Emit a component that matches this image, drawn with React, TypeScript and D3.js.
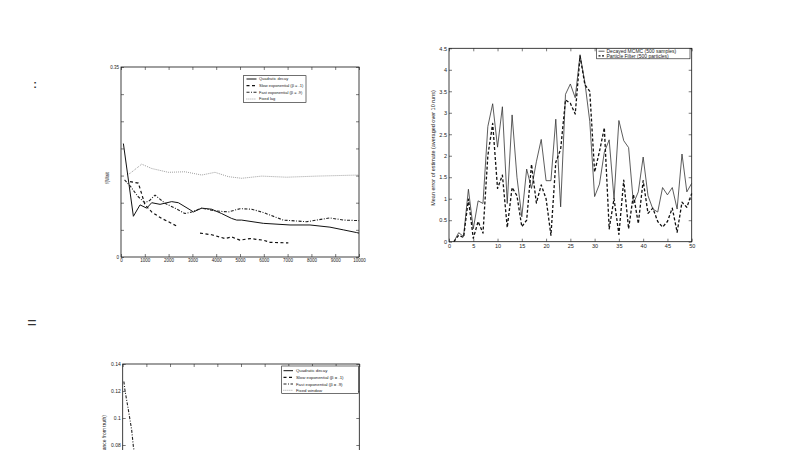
import { useEffect, useRef } from "react";
import * as d3 from "d3";

const FONT = "'Liberation Sans', Arial, sans-serif";

// ---- panel A: lag vs. time ----
const LAG_LEGEND = ["Quadratic decay", "Slow exponential (β = .1)", "Fast exponential (β = .9)", "Fixed lag"];
const QUAD_T = [100, 520, 800, 1080, 1290, 1640, 2130, 2410, 2900, 3040, 3390, 3810, 4230, 4650, 4860, 5070, 5980, 7100, 7940, 8780, 9340, 9900, 10000];
const QUAD_V = [0.209, 0.075, 0.096, 0.09, 0.1, 0.097, 0.102, 0.1, 0.087, 0.083, 0.09, 0.088, 0.08, 0.071, 0.068, 0.068, 0.062, 0.059, 0.059, 0.055, 0.05, 0.045, 0.044];
const SLOW_T = [380, 730, 1010, 1290, 1710, 1990, 2340, 2800, 3320, 3810, 4370, 4650, 5000, 5420, 5980, 6260, 7030];
const SLOW_V = [0.139, 0.136, 0.096, 0.083, 0.071, 0.065, 0.057, null, 0.044, 0.041, 0.034, 0.037, 0.031, 0.034, 0.031, 0.027, 0.026];
const FAST_T = [150, 400, 700, 1000, 1200, 1430, 1850, 2270, 2690, 2970, 3390, 3950, 4510, 5000, 5490, 5980, 6820, 7800, 8780, 9340, 10000];
const FAST_V = [0.142, 0.13, 0.112, 0.1, 0.104, 0.114, 0.099, 0.09, 0.08, 0.083, 0.09, 0.085, 0.083, 0.089, 0.088, 0.082, 0.068, 0.065, 0.072, 0.068, 0.067];
const FIXED_T = [250, 378, 870, 1290, 1990, 2690, 3390, 3950, 4510, 5070, 5910, 6960, 8220, 10000];
const FIXED_V = [0.152, 0.154, 0.171, 0.163, 0.156, 0.157, 0.151, 0.156, 0.148, 0.145, 0.149, 0.147, 0.149, 0.151];

// ---- panel B: error per step ----
const STEPS = d3.range(1, 51);
const MCMC = [0, 0.21, 0.12, 1.22, 0.3, 0.95, 0.89, 2.68, 3.21, 2.2, 3.14, 0.89, 2.95, 1.5, 0.58, 1.69, 1.24, 1.86, 2.38, 1.42, 1.42, 2.85, 0.81, 3.43, 3.67, 3.35, 4.35, 3.7, 2.8, 1.05, 1.34, 2.08, 2.37, 1.0, 2.82, 2.35, 2.19, 0.89, 1.16, 1.97, 1.07, 0.76, 0.69, 1.26, 1.09, 1.26, 0.76, 2.04, 1.16, 1.36];
const PF = [0, 0.15, 0.1, 0.99, 0.08, 0.47, 0.2, 2.0, 2.75, 1.24, 1.55, 0.33, 1.26, 1.07, 0.35, 0.5, 1.8, 0.9, 1.32, 1.0, 0.15, 1.85, 2.15, 3.3, 3.22, 2.97, 4.32, 3.65, 3.5, 1.62, 2.1, 2.65, 0.3, 1.0, 0.17, 1.43, 0.3, 1.1, 0.42, 1.42, 0.66, 0.78, 0.47, 0.34, 0.47, 0.78, 0.22, 0.92, 0.8, 1.12];
const ERR_LEGEND = ["Decayed MCMC (500 samples)", "Particle Filter (500 particles)"];

// ---- panel C: distance from truth (only the top is on the page) ----
const DIST_LEGEND = ["Quadratic decay", "Slow exponential (β = .1)", "Fast exponential (β = .9)", "Fixed window"];
const DIST_FAST_T = [50, 100, 240, 380, 450, 480];
const DIST_FAST_V = [0.127, 0.12, 0.106, 0.091, 0.079, 0.076];

const STYLES = [
  { dash: "none", color: "#111", width: 1 },
  { dash: "3,2.5", color: "#111", width: 1.2 },
  { dash: "3,1.5,1,1.5", color: "#222", width: 1.1 },
  { dash: "0.8,1.2", color: "#888", width: 1 },
];

type Line = { xs: number[]; ys: (number | null)[]; style: { dash: string; color: string; width: number } };

type PanelProps = {
  x: d3.ScaleLinear<number, number>;
  y: d3.ScaleLinear<number, number>;
  xTicks: number[];
  yTicks: number[];
  yFmt: (d: number) => string;
  xLabels: boolean;
  fontSize: number;
  lines: Line[];
  legend: { names: string[]; styles: typeof STYLES; box: [number, number, number, number]; rows: number[]; lx: [number, number]; tx: number; fs: number };
  yLabel: { text: string; x: number; y: number; anchor: string };
};

const Panel = ({ x, y, xTicks, yTicks, yFmt, xLabels, fontSize, lines, legend, yLabel }: PanelProps) => {
  const axesRef = useRef<SVGGElement>(null);
  const [x0, x1] = x.range();
  const [yb, yt] = y.range();

  useEffect(() => {
    const g = d3.select(axesRef.current);
    g.selectAll("*").remove();
    const t = 3;
    g.append("g").attr("transform", `translate(0,${yb})`)
      .call(d3.axisBottom(x).tickValues(xTicks).tickSizeInner(-t).tickSizeOuter(0).tickPadding(2)
        .tickFormat((d) => (xLabels ? String(d) : "")));
    g.append("g").attr("transform", `translate(0,${yt})`)
      .call(d3.axisTop(x).tickValues(xTicks).tickSizeInner(-t).tickSizeOuter(0).tickFormat(() => ""));
    g.append("g").attr("transform", `translate(${x0},0)`)
      .call(d3.axisLeft(y).tickValues(yTicks).tickSizeInner(-t).tickSizeOuter(0).tickPadding(2).tickFormat((d) => yFmt(+d)));
    g.append("g").attr("transform", `translate(${x1},0)`)
      .call(d3.axisRight(y).tickValues(yTicks).tickSizeInner(-t).tickSizeOuter(0).tickFormat(() => ""));
    g.selectAll(".domain").remove();
    g.selectAll("text").filter(function () { return d3.select(this).text() === ""; }).remove();
    g.selectAll("line").attr("stroke", "#222").attr("stroke-width", 0.6);
    g.selectAll("text").attr("font-family", FONT).attr("font-size", fontSize).attr("fill", "#222");
  }, [x, y, xTicks, yTicks, yFmt, xLabels, fontSize, x0, x1, yb, yt]);

  const path = (l: Line) =>
    d3.line<number>()
      .defined((i) => l.ys[i] !== null)
      .x((i) => x(l.xs[i]))
      .y((i) => y(l.ys[i] as number))(d3.range(l.xs.length)) || "";

  const [bx0, by0, bx1, by1] = legend.box;
  return (
    <g>
      <rect x={x0} y={yt} width={x1 - x0} height={yb - yt} fill="white" stroke="#111" strokeWidth={0.8} />
      {lines.map((l, i) => (
        <path key={i} d={path(l)} fill="none" stroke={l.style.color} strokeWidth={l.style.width}
          strokeDasharray={l.style.dash} strokeLinejoin="round" />
      ))}
      <g ref={axesRef} />
      <text transform={`translate(${yLabel.x},${yLabel.y}) rotate(-90)`} textAnchor={yLabel.anchor}
        fontFamily={FONT} fontSize={fontSize} fill="#222">{yLabel.text}</text>
      <rect x={bx0} y={by0} width={bx1 - bx0} height={by1 - by0} fill="white" stroke="#111" strokeWidth={0.6} />
      {legend.names.map((n, i) => (
        <g key={n}>
          <line x1={legend.lx[0]} x2={legend.lx[1]} y1={legend.rows[i]} y2={legend.rows[i]}
            stroke={legend.styles[i].color} strokeWidth={legend.styles[i].width} strokeDasharray={legend.styles[i].dash} />
          <text x={legend.tx} y={legend.rows[i]} dy="0.35em" fontFamily={FONT} fontSize={legend.fs} fill="#222">{n}</text>
        </g>
      ))}
    </g>
  );
};

const zip = (xs: number[], ys: (number | null)[], k: number): Line => ({ xs, ys, style: STYLES[k] });

const App = () => {
  const xA = d3.scaleLinear().domain([0, 10000]).range([121, 359]);
  const yA = d3.scaleLinear().domain([0, 0.35]).range([257, 67]);
  const xB = d3.scaleLinear().domain([0, 50]).range([449, 691.7]);
  const yB = d3.scaleLinear().domain([0, 4.5]).range([241.7, 48.3]);
  const xC = d3.scaleLinear().domain([0, 10000]).range([122.7, 359.3]);
  const yC = d3.scaleLinear().domain([0, 0.14]).range([553, 364]);
  const thousands = d3.range(0, 10001, 1000);

  return (
    <svg width={800} height={450} style={{ position: "absolute", left: 0, top: 0, background: "white" }}>
      <Panel
        x={xA} y={yA} xTicks={thousands} yTicks={d3.range(0, 0.351, 0.05)} xLabels
        yFmt={(d) => (d === 0 ? "0" : d > 0.34 ? "0.35" : "")} fontSize={4.5}
        lines={[zip(FIXED_T, FIXED_V, 3), zip(QUAD_T, QUAD_V, 0), zip(SLOW_T, SLOW_V, 1), zip(FAST_T, FAST_V, 2)]}
        legend={{ names: LAG_LEGEND, styles: STYLES, box: [243.3, 75.7, 306, 102.3], rows: [79, 85.7, 92.3, 99], lx: [246.5, 256.5], tx: 259, fs: 4 }}
        yLabel={{ text: "f(Wait", x: 109, y: 178, anchor: "middle" }}
      />
      <Panel
        x={xB} y={yB} xTicks={d3.range(0, 51, 5)} yTicks={d3.range(0, 4.51, 0.5)} xLabels
        yFmt={(d) => String(+d.toFixed(1))} fontSize={5.5}
        lines={[
          { xs: STEPS, ys: MCMC, style: { dash: "none", color: "#333", width: 0.8 } },
          { xs: STEPS, ys: PF, style: { dash: "3,2", color: "#111", width: 1.3 } },
        ]}
        legend={{
          names: ERR_LEGEND,
          styles: [{ dash: "none", color: "#333", width: 0.8 }, { dash: "2,1.5", color: "#111", width: 1.3 }, STYLES[2], STYLES[3]],
          box: [596.7, 48.3, 690, 58.8], rows: [51.2, 55.8], lx: [598.5, 604.5], tx: 606.5, fs: 5,
        }}
        yLabel={{ text: "Mean error of estimate (averaged over 10 runs)", x: 435, y: 148, anchor: "middle" }}
      />
      <Panel
        x={xC} y={yC} xTicks={thousands} yTicks={d3.range(0, 0.141, 0.02)} xLabels={false}
        yFmt={(d) => (d >= 0.08 ? String(+d.toFixed(2)) : "")} fontSize={5}
        lines={[zip(DIST_FAST_T, DIST_FAST_V, 2)]}
        legend={{ names: DIST_LEGEND, styles: STYLES, box: [281.7, 366, 358.3, 393.3], rows: [370.7, 377.3, 384, 390.3], lx: [283.5, 293], tx: 296, fs: 4.3 }}
        yLabel={{ text: "(distance from truth)", x: 106, y: 415, anchor: "end" }}
      />
      <text x={35} y={88} textAnchor="middle" fontFamily={FONT} fontSize={11} fontWeight="bold" fill="#333">:</text>
      <text x={32} y={328} textAnchor="middle" fontFamily={FONT} fontSize={16} fill="#333">=</text>
    </svg>
  );
};

export default App;
